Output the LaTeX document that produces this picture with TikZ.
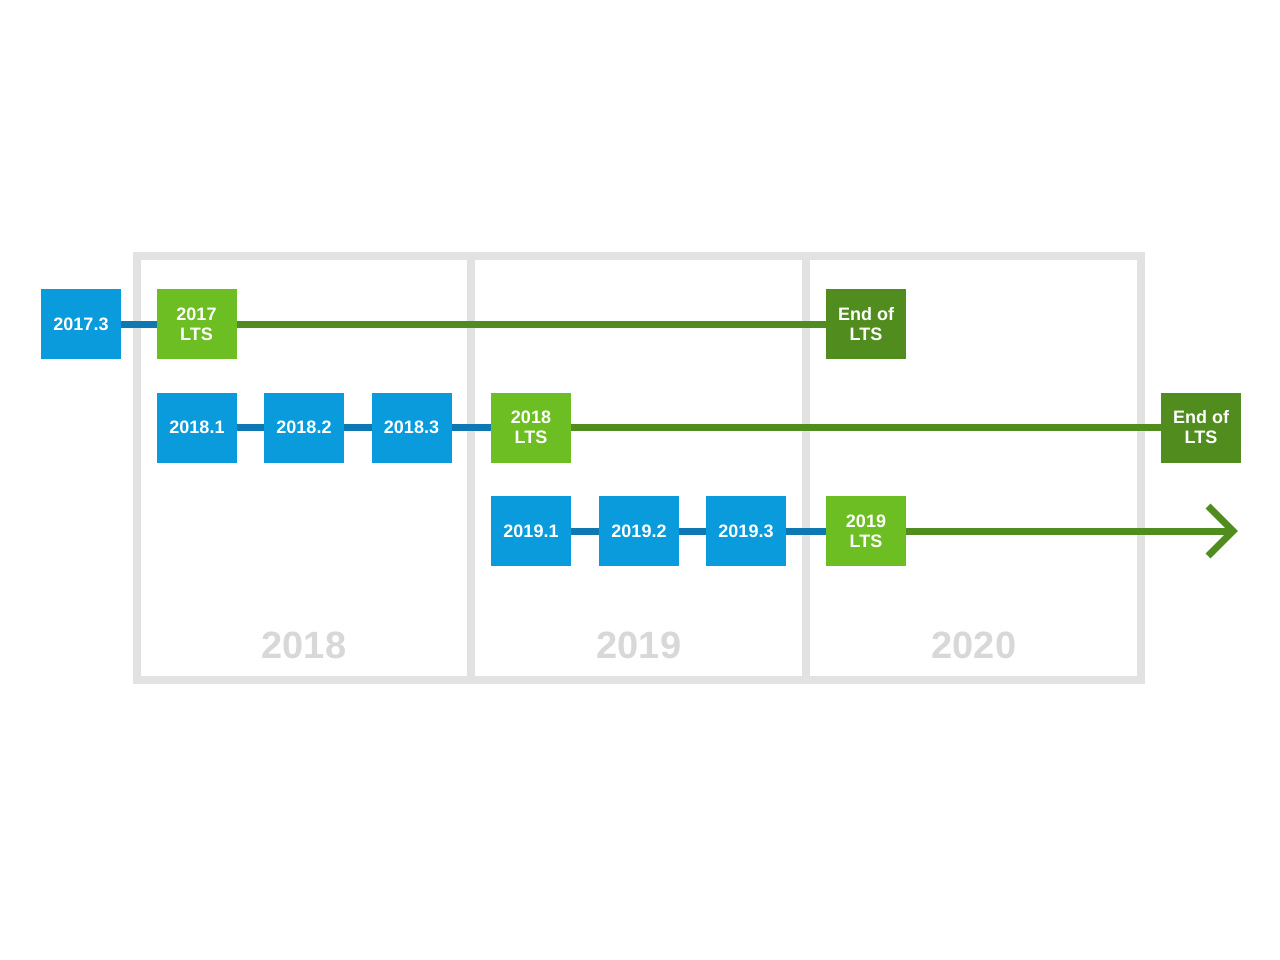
\documentclass[tikz,border=0pt]{standalone}
\usepackage{fontspec}
\setmainfont{Liberation Sans}
\usepackage{tikz}
\usetikzlibrary{positioning}

\definecolor{relblue}{RGB}{9,155,220}
\definecolor{linkblue}{RGB}{14,120,178}
\definecolor{ltsgreen}{RGB}{108,190,35}
\definecolor{endgreen}{RGB}{80,140,30}
\definecolor{gridgrey}{RGB}{226,226,226}
\definecolor{yeargrey}{RGB}{216,216,216}

\begin{document}
\begin{tikzpicture}[x=1pt,y=-1pt]
\tikzstyle{every node}+=[inner sep=0pt]
\tikzstyle{box}=[minimum width=80pt,minimum height=70pt,text=white,align=center,font=\fontsize{18}{20}\selectfont\bfseries]
\tikzstyle{rel}=[box,fill=relblue]
\tikzstyle{lts}=[box,fill=ltsgreen]
\tikzstyle{eol}=[box,fill=endgreen]
\tikzstyle{blueline}=[draw=linkblue,line width=7pt]
\tikzstyle{greenline}=[draw=endgreen,line width=7pt]
\tikzstyle{year}=[text=yeargrey,font=\fontsize{38}{40}\selectfont\bfseries]
\useasboundingbox [fill=white] (0,0) rectangle (1280,960);
% year grid
\draw [gridgrey,line width=8pt] (137,256) rectangle (1141,680);
\draw [gridgrey,line width=8pt] (471,256) -- (471,680);
\draw [gridgrey,line width=8pt] (806,256) -- (806,680);
\node [year] (y18) at (304,645) {2018};
\node [year] (y19) at (639,645) {2019};
\node [year] (y20) at (974,645) {2020};
% 2017 row
\coordinate (r17a) at (81,324);
\coordinate (r17b) at (196.5,324);
\coordinate (r17c) at (866,324);
% 2018 row
\coordinate (r18a) at (197,427.5);
\coordinate (r18b) at (304,427.5);
\coordinate (r18c) at (411.5,427.5);
\coordinate (r18d) at (531,427.5);
\coordinate (r18e) at (1201,427.5);
% 2019 row
\coordinate (r19a) at (531,531);
\coordinate (r19b) at (639,531);
\coordinate (r19c) at (746,531);
\coordinate (r19d) at (866,531);
\coordinate (tip) at (1233,531);
% connectors
\draw [blueline] (r17a) -- (r17b);
\draw [greenline] (r17b) -- (r17c);
\draw [blueline] (r18a) -- (r18d);
\draw [greenline] (r18d) -- (r18e);
\draw [blueline] (r19a) -- (r19d);
\draw [greenline] (r19d) -- (tip);
\draw [greenline,line join=miter] (1208,506) -- (tip) -- (1208,556);
% boxes
\node [rel] (v173) at (r17a) {2017.3};
\node [lts] (lts17) at (r17b) {2017\\LTS};
\node [eol] (eol17) at (r17c) {End of\\LTS};
\node [rel] (v181) at (r18a) {2018.1};
\node [rel] (v182) at (r18b) {2018.2};
\node [rel] (v183) at (r18c) {2018.3};
\node [lts] (lts18) at (r18d) {2018\\LTS};
\node [eol] (eol18) at (r18e) {End of\\LTS};
\node [rel] (v191) at (r19a) {2019.1};
\node [rel] (v192) at (r19b) {2019.2};
\node [rel] (v193) at (r19c) {2019.3};
\node [lts] (lts19) at (r19d) {2019\\LTS};
\end{tikzpicture}
\end{document}
